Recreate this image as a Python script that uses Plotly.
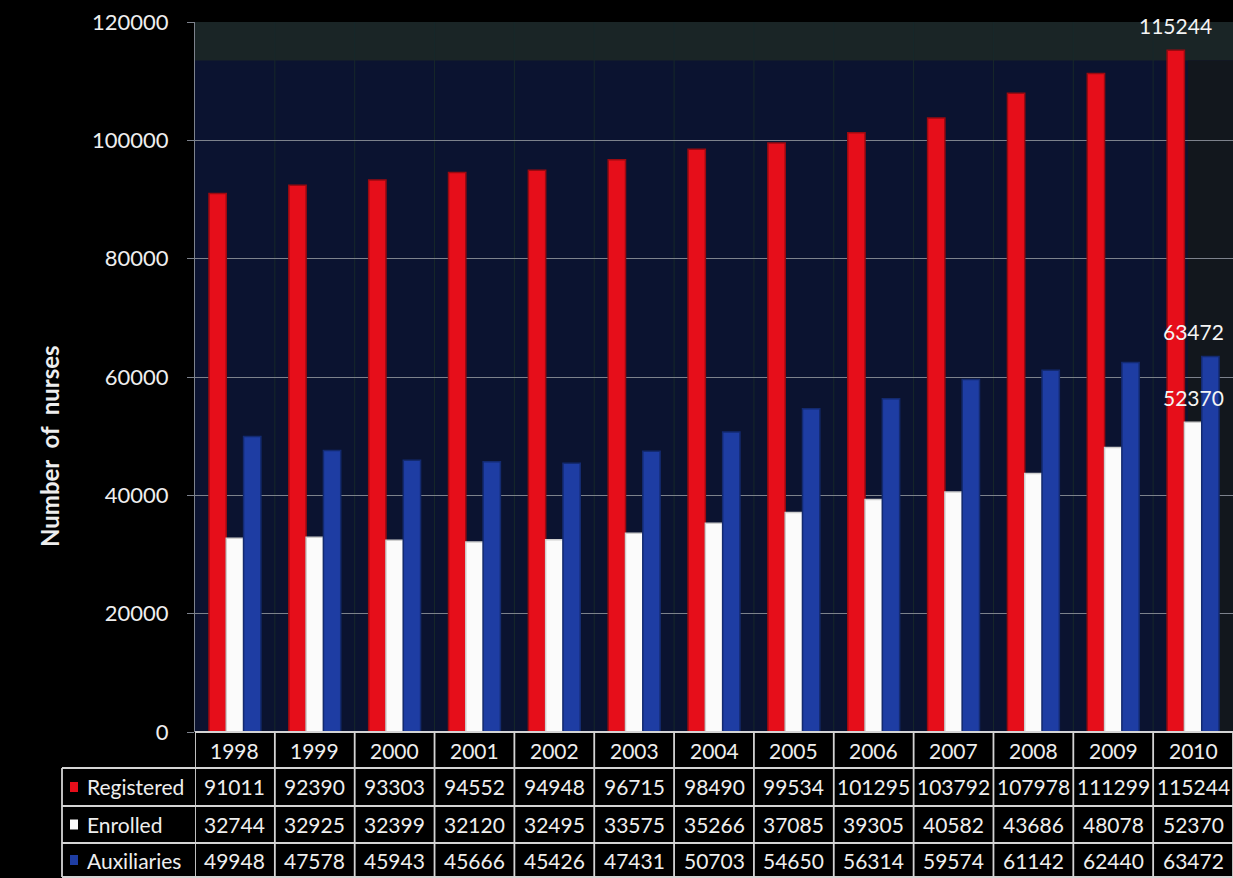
import plotly.graph_objects as go

# ---- data -------------------------------------------------------------
years = ["1998", "1999", "2000", "2001", "2002", "2003", "2004",
         "2005", "2006", "2007", "2008", "2009", "2010"]
registered = [91011, 92390, 93303, 94552, 94948, 96715, 98490,
              99534, 101295, 103792, 107978, 111299, 115244]
enrolled = [32744, 32925, 32399, 32120, 32495, 33575, 35266,
            37085, 39305, 40582, 43686, 48078, 52370]
auxiliaries = [49948, 47578, 45943, 45666, 45426, 47431, 50703,
               54650, 56314, 59574, 61142, 62440, 63472]
series_names = ["Registered", "Enrolled", "Auxiliaries"]
y_ticks = [0, 20000, 40000, 60000, 80000, 100000, 120000]

# ---- styling -----------------------------------------------------------
W, H = 1233, 878
M_L, M_R, M_T, M_B = 195, 0, 22, 146
PLOT_W = W - M_L - M_R
PLOT_H = H - M_T - M_B
FONT = "Lato"
TEXT = "#eeeeee"
GRID = "#7d828c"
TABLE_LINE = "#d4d4d4"

colors = ["#e60e1a", "#fbfbfb", "#1e3da3"]
edges = ["#9a0a10", "#cfcfcf", "#132a70"]
series = [registered, enrolled, auxiliaries]


def px_x(px):
    """Horizontal pixel -> paper coordinate."""
    return (px - M_L) / PLOT_W


def px_y(py):
    """Vertical pixel -> paper coordinate."""
    return (H - M_B - py) / PLOT_H


fig = go.Figure()
for name, vals, col, edge in zip(series_names, series, colors, edges):
    fig.add_trace(go.Bar(
        x=years, y=vals, name=name,
        marker=dict(color=col, line=dict(color=edge, width=1.5)),
        showlegend=False,
    ))

shapes = []
# dark ceiling band and side wall of the plot area
shapes.append(dict(type="rect", xref="paper", yref="y", x0=0, x1=1,
                   y0=113500, y1=120000, fillcolor="#1a2526",
                   line=dict(width=0), layer="below"))
shapes.append(dict(type="rect", xref="paper", yref="y", x0=px_x(1188), x1=1,
                   y0=0, y1=113500, fillcolor="#12171d",
                   line=dict(width=0), layer="below"))
# faint category separators inside the plot
for k in range(1, len(years)):
    shapes.append(dict(type="line", xref="x", yref="paper", x0=k - 0.5,
                       x1=k - 0.5, y0=0, y1=1,
                       line=dict(color="#17282a", width=1), layer="below"))

# ---- data table under the plot -----------------------------------------
row_edges = [732, 768, 806, 843, 877]
row_centers = [750, 787, 824.5, 860]
n = len(years)

# vertical lines of the year columns
for k in range(n + 1):
    shapes.append(dict(type="line", xref="x", yref="paper",
                       x0=k - 0.5, x1=k - 0.5,
                       y0=px_y(row_edges[0]), y1=px_y(row_edges[-1]),
                       line=dict(color=TABLE_LINE, width=1.8)))
# label column left border
shapes.append(dict(type="line", xref="paper", yref="paper",
                   x0=px_x(62), x1=px_x(62),
                   y0=px_y(row_edges[1]), y1=px_y(row_edges[-1]),
                   line=dict(color=TABLE_LINE, width=1.8)))
# horizontal lines
shapes.append(dict(type="line", xref="paper", yref="paper", x0=0, x1=1,
                   y0=px_y(row_edges[0]), y1=px_y(row_edges[0]),
                   line=dict(color=TABLE_LINE, width=1.8)))
for py in row_edges[1:]:
    shapes.append(dict(type="line", xref="paper", yref="paper",
                       x0=px_x(62), x1=1, y0=px_y(py), y1=px_y(py),
                       line=dict(color=TABLE_LINE, width=1.8)))

cell_font = dict(family=FONT, size=21, color=TEXT)
annotations = []
# header row: years
for i, yr in enumerate(years):
    annotations.append(dict(x=i, xref="x", y=px_y(row_centers[0]),
                            yref="paper", text=yr, showarrow=False,
                            xanchor="center", yanchor="middle",
                            font=cell_font))
# series rows
for r, (name, vals, col) in enumerate(zip(series_names, series, colors)):
    yc = px_y(row_centers[r + 1])
    shapes.append(dict(type="rect", xref="paper", yref="paper",
                       x0=px_x(70), x1=px_x(78),
                       y0=yc - 5 / PLOT_H, y1=yc + 5 / PLOT_H,
                       fillcolor=col, line=dict(width=0)))
    annotations.append(dict(x=px_x(85), xref="paper", y=yc, yref="paper",
                            text=name, showarrow=False, xanchor="left",
                            yanchor="middle", font=cell_font))
    for i, v in enumerate(vals):
        annotations.append(dict(x=i, xref="x", y=yc, yref="paper",
                                text=str(v), showarrow=False,
                                xanchor="center", yanchor="middle",
                                font=cell_font))

# value labels for the final year
last = n - 1
for vals, dx in zip(series, [-18, 0, 0]):
    annotations.append(dict(x=last, xref="x", y=vals[-1], yref="y",
                            text=str(vals[-1]), showarrow=False,
                            xshift=dx, yshift=25, xanchor="center",
                            yanchor="middle",
                            font=dict(family=FONT, size=21, color="#f4f4f4")))

# y-axis title
annotations.append(dict(x=px_x(49), xref="paper", y=px_y(446), yref="paper",
                        text="<b>Number  of  nurses</b>", textangle=-90,
                        showarrow=False, xanchor="center", yanchor="middle",
                        font=dict(family=FONT, size=24, color=TEXT)))

fig.update_layout(
    width=W, height=H, autosize=False,
    margin=dict(l=M_L, r=M_R, t=M_T, b=M_B, pad=0),
    paper_bgcolor="#000000",
    plot_bgcolor="#0b1330",
    barmode="group", bargap=0.35, bargroupgap=0,
    xaxis=dict(type="category", range=[-0.5, n - 0.5],
               showticklabels=False, showgrid=False, zeroline=False,
               showline=False, ticks=""),
    yaxis=dict(range=[0, 120000], tickvals=y_ticks,
               ticktext=[str(t) for t in y_ticks],
               ticks="outside", ticklen=7, tickcolor=GRID,
               showgrid=True, gridcolor=GRID, gridwidth=1,
               showline=True, linecolor=GRID, linewidth=1,
               zeroline=False, ticklabelstandoff=14,
               tickfont=dict(family=FONT, size=22, color=TEXT)),
    shapes=shapes,
    annotations=annotations,
)

fig.write_html("out.html")
